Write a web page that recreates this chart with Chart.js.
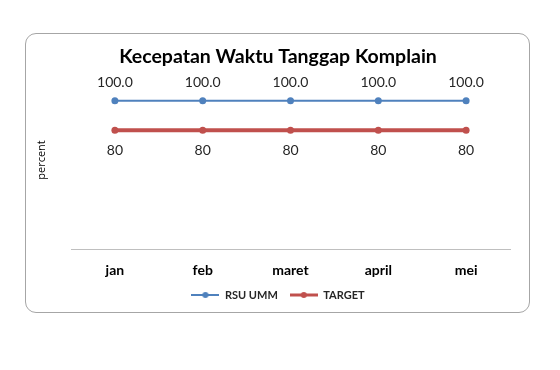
<!DOCTYPE html>
<html>
<head>
<meta charset="utf-8">
<title>Kecepatan Waktu Tanggap Komplain</title>
<script src="https://cdn.jsdelivr.net/npm/chart.js@4"></script>
<style>
  html, body { margin: 0; padding: 0; background: #fff; }
  #wrap { position: relative; width: 560px; height: 370px; }
  #card {
    position: absolute; left: 25px; top: 33px; width: 503px; height: 278px;
    border: 1.5px solid #a6a6a6; border-radius: 11px;
  }
  #chart { position: absolute; left: 0; top: 0; }
</style>
</head>
<body>
<div id="wrap">
  <div id="card"></div>
  <canvas id="chart" width="560" height="370"></canvas>
</div>
<script>
  // --- Data ---
  var months = ['jan', 'feb', 'maret', 'april', 'mei'];
  var rsuUmm = [100, 100, 100, 100, 100];
  var target = [80, 80, 80, 80, 80];

  var FONT = "Lato, 'Open Sans', sans-serif";
  var BLUE = '#4f81bd';
  var RED = '#c0504d';

  // legend marker: line with a dot in the middle
  function marker(color, lw) {
    var c = document.createElement('canvas');
    c.width = 28; c.height = 8;
    var g = c.getContext('2d');
    g.strokeStyle = color;
    g.lineWidth = lw;
    g.beginPath(); g.moveTo(0, 4); g.lineTo(28, 4); g.stroke();
    g.fillStyle = color;
    g.beginPath(); g.arc(14, 4, 3, 0, Math.PI * 2); g.fill();
    return c;
  }

  // value labels above / below the points
  var valueLabels = {
    id: 'valueLabels',
    afterDatasetsDraw: function (chart) {
      var ctx = chart.ctx;
      ctx.save();
      ctx.font = '14px ' + FONT;
      ctx.fillStyle = '#262626';
      ctx.textAlign = 'center';
      ctx.textBaseline = 'middle';
      chart.data.datasets.forEach(function (ds, i) {
        var meta = chart.getDatasetMeta(i);
        meta.data.forEach(function (pt, j) {
          ctx.fillText(ds.labelFormat(ds.data[j]), pt.x, pt.y + ds.labelOffset);
        });
      });
      ctx.restore();
    }
  };

  new Chart(document.getElementById('chart'), {
    type: 'line',
    data: {
      labels: months,
      datasets: [
        {
          label: 'RSU UMM',
          data: rsuUmm,
          borderColor: BLUE,
          backgroundColor: BLUE,
          borderWidth: 2,
          pointRadius: 3.5,
          pointBackgroundColor: BLUE,
          pointBorderWidth: 0,
          labelOffset: -18,
          labelFormat: function (v) { return v.toFixed(1); }
        },
        {
          label: 'TARGET',
          data: target,
          borderColor: RED,
          backgroundColor: RED,
          borderWidth: 4,
          pointRadius: 3.5,
          pointBackgroundColor: RED,
          pointBorderWidth: 0,
          labelOffset: 20,
          labelFormat: function (v) { return String(v); }
        }
      ]
    },
    options: {
      responsive: false,
      animation: false,
      layout: { padding: { left: 31, right: 35, top: 35, bottom: 59.5 } },
      plugins: {
        title: {
          display: true,
          text: 'Kecepatan Waktu Tanggap Komplain',
          color: '#000',
          font: { family: FONT, size: 19.5, weight: 'bold' },
          padding: { top: 10, bottom: 2.6 }
        },
        legend: {
          display: true,
          position: 'bottom',
          labels: {
            usePointStyle: true,
            pointStyleWidth: 28,
            padding: 12,
            color: '#262626',
            font: { family: FONT, size: 11, weight: 'bold' },
            generateLabels: function (chart) {
              var items = Chart.defaults.plugins.legend.labels.generateLabels(chart);
              items.forEach(function (it) {
                var ds = chart.data.datasets[it.datasetIndex];
                it.pointStyle = marker(ds.borderColor, ds.borderWidth === 4 ? 3 : 2);
              });
              return items;
            }
          }
        },
        tooltip: { enabled: false }
      },
      scales: {
        x: {
          offset: true,
          grid: { display: false, drawTicks: false },
          border: { display: true, color: '#bfbfbf', width: 1 },
          ticks: {
            padding: 13,
            color: '#000',
            font: { family: FONT, size: 14, weight: 'bold' }
          },
          afterFit: function (s) { s.height = 28.5; }
        },
        y: {
          min: 0,
          max: 120,
          grid: { display: false, drawTicks: false },
          border: { display: false },
          ticks: { display: false },
          title: {
            display: true,
            text: 'percent',
            color: '#000',
            font: { family: "'Open Sans', sans-serif", size: 11 }
          },
          afterFit: function (s) { s.width = 40; }
        },
        y2: {
          position: 'right',
          grid: { display: false, drawTicks: false },
          border: { display: false },
          ticks: { display: false },
          afterFit: function (s) { s.width = 15; }
        }
      }
    },
    plugins: [valueLabels]
  });
</script>
</body>
</html>
